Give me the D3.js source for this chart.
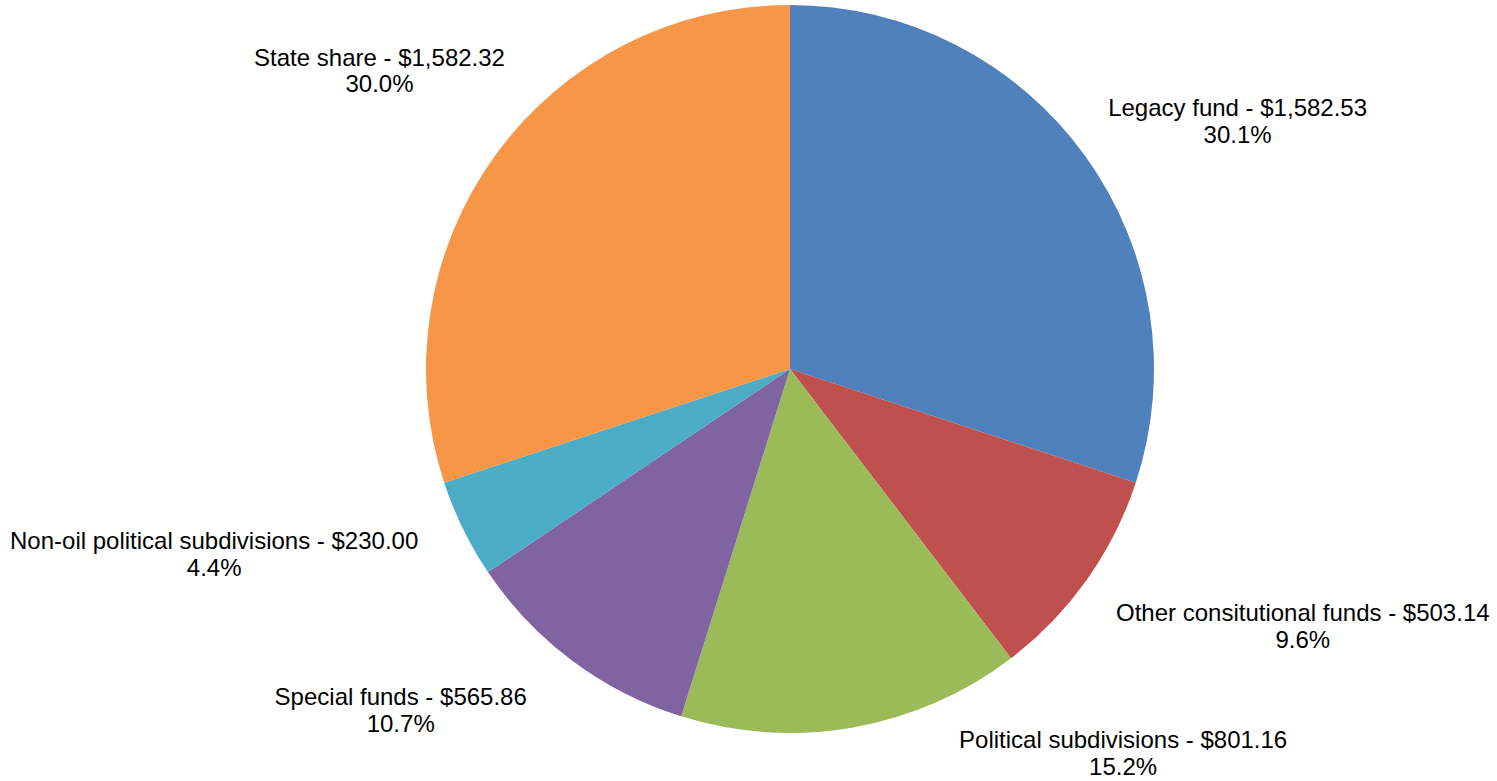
<!DOCTYPE html>
<html><head><meta charset="utf-8">
<script src="https://cdn.jsdelivr.net/npm/d3@7"></script>
<style>html,body{margin:0;padding:0;background:#fff;overflow:hidden;} svg{display:block;}</style>
</head><body>
<svg id="chart" width="1497" height="781"></svg>
<script>
const categories = ["Legacy fund", "Other consitutional funds", "Political subdivisions", "Special funds", "Non-oil political subdivisions", "State share"];
const values = [1582.53, 503.14, 801.16, 565.86, 230.00, 1582.32];
const colors = ["#4F81BD", "#C0504D", "#9BBB59", "#8064A2", "#4BACC6", "#F79646"];

// layout
const W = 1497, H = 781;
const cx = 790, cy = 369, R = 364;
const labelR = 398;
// label placement tweaks only (degrees / pixels along the ray)
const labelAngleNudge = [1.2, -0.2, 0, 3.2, 3.0, 7.6];
const labelRadiusNudge = [-11, 1, -3, 12, 6, -5];
const fontSize = 24, lineGap = 26.5;
const boxTopPad = 22, boxBotPad = 6;

// percentages in tenths via largest remainder so they sum to 100.0%
const total = d3.sum(values);
const raw = values.map(v => v / total * 1000);
const fl = raw.map(Math.floor);
const rem = 1000 - d3.sum(fl);
const order = d3.range(values.length).sort((a, b) => (raw[b] - fl[b]) - (raw[a] - fl[a]));
for (let i = 0; i < rem; i++) fl[order[i]] += 1;
const pctText = fl.map(t => (t / 10).toFixed(1) + "%");
const money = d3.format(",.2f");

const svg = d3.select("#chart");
const g = svg.append("g").attr("transform", `translate(${cx},${cy})`);

const pie = d3.pie().sort(null).value(d => d)(values);
const arc = d3.arc().innerRadius(0).outerRadius(R);

g.selectAll("path.slice").data(pie).join("path")
  .attr("class", "slice")
  .attr("d", arc)
  .attr("fill", (d, i) => colors[i]);

const labels = svg.append("g")
  .attr("font-family", "'Liberation Sans', Arial, sans-serif")
  .attr("font-size", fontSize)
  .attr("fill", "#000");

pie.forEach((d, i) => {
  const t = labels.append("text").attr("text-anchor", "middle");
  const l1 = t.append("tspan").text(categories[i] + " - $" + money(values[i]));
  const l2 = t.append("tspan").text(pctText[i]);
  const w = Math.max(l1.node().getComputedTextLength(), l2.node().getComputedTextLength());
  const h = boxTopPad + lineGap + boxBotPad;
  const r = labelR + labelRadiusNudge[i];
  let th = (d.startAngle + d.endAngle) / 2 + labelAngleNudge[i] * Math.PI / 180;
  const right = Math.sin(th) >= 0;
  const upper = Math.cos(th) >= 0;
  // nearest-corner anchor on circle of radius r
  let ax = cx + r * Math.sin(th);
  let ay = cy - r * Math.cos(th);
  let top = upper ? ay - h : ay;
  // slide along the circle if the box would leave the bottom of the view
  const maxTop = H - 0.5 - h;
  if (!upper && top > maxTop) {
    const c = (cy - maxTop) / r;
    th = right ? Math.acos(c) : 2 * Math.PI - Math.acos(c);
    ax = cx + r * Math.sin(th);
    ay = cy - r * Math.cos(th);
    top = ay;
  }
  if (upper && top < 0) top = 0;
  let left = right ? ax : ax - w;
  left = Math.max(4, Math.min(W - 4 - w, left));
  const midX = left + w / 2;
  const base1 = top + boxTopPad;
  l1.attr("x", midX).attr("y", base1);
  l2.attr("x", midX).attr("y", base1 + lineGap);
});
</script>
</body></html>
